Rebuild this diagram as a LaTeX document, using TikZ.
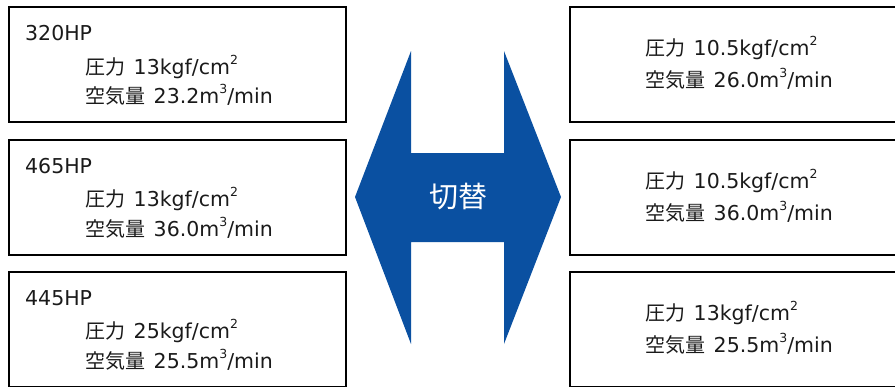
\documentclass[tikz,border=0pt]{standalone}
\usepackage{fontspec}
\setmainfont{DejaVu Sans}
\newfontfamily\cjk{Noto Sans CJK JP}
\definecolor{arrowblue}{HTML}{0A50A1}
\definecolor{txtgray}{HTML}{1A1A1A}
\newcommand{\supx}[1]{\raisebox{0.45em}{\fontsize{12.5}{12.5}\selectfont #1}}
\newcommand{\jp}[1]{{\cjk\fontsize{20}{24}\selectfont #1}\hspace{2pt}}
\begin{document}
\begin{tikzpicture}[x=1pt,y=-1pt,
  box/.style={draw=black, line width=2.2pt, anchor=north west, inner sep=0pt, outer sep=0pt},
  lbox/.style={box, minimum width=337pt, minimum height=115pt},
  rbox/.style={box, minimum width=340pt, minimum height=115pt},
  txt/.style={anchor=base west, inner sep=0pt, font=\fontsize{20.5}{24}\selectfont, text=txtgray},
  swtxt/.style={inner sep=0pt, font=\cjk\fontsize{29}{32}\selectfont, text=white}]
\useasboundingbox (0,0) rectangle (895,386);
\clip (0,0) rectangle (895,386);
% left boxes
\node[lbox] (L1) at (9,7) {};
\node[lbox] (L2) at (9,140) {};
\node[lbox] (L3) at (9,272) {};
% right boxes
\node[rbox] (R1) at (570,7) {};
\node[rbox] (R2) at (570,140) {};
\node[rbox] (R3) at (570,272) {};
% left texts
\node[txt] (L1a) at (25,40) {320HP};
\node[txt] (L1b) at (85,74) {\jp{圧力} 13kgf/cm\supx{2}};
\node[txt] (L1c) at (85,103) {\jp{空気量} 23.2m\supx{3}/min};
\node[txt] (L2a) at (25,173) {465HP};
\node[txt] (L2b) at (85,206) {\jp{圧力} 13kgf/cm\supx{2}};
\node[txt] (L2c) at (85,236) {\jp{空気量} 36.0m\supx{3}/min};
\node[txt] (L3a) at (25,305) {445HP};
\node[txt] (L3b) at (85,338) {\jp{圧力} 25kgf/cm\supx{2}};
\node[txt] (L3c) at (85,368) {\jp{空気量} 25.5m\supx{3}/min};
% right texts
\node[txt] (R1a) at (645,55) {\jp{圧力} 10.5kgf/cm\supx{2}};
\node[txt] (R1b) at (645,87) {\jp{空気量} 26.0m\supx{3}/min};
\node[txt] (R2a) at (645,188) {\jp{圧力} 10.5kgf/cm\supx{2}};
\node[txt] (R2b) at (645,220) {\jp{空気量} 36.0m\supx{3}/min};
\node[txt] (R3a) at (645,320) {\jp{圧力} 13kgf/cm\supx{2}};
\node[txt] (R3b) at (645,352) {\jp{空気量} 25.5m\supx{3}/min};
% double arrow
\fill[arrowblue] (411,51) -- (411,153) -- (504,153) -- (504,51) -- (561,197)
  -- (504,344) -- (504,242) -- (411,242) -- (411,344) -- (355,197) -- cycle;
\node[swtxt] (sw) at (458,197) {切替};
\end{tikzpicture}
\end{document}
